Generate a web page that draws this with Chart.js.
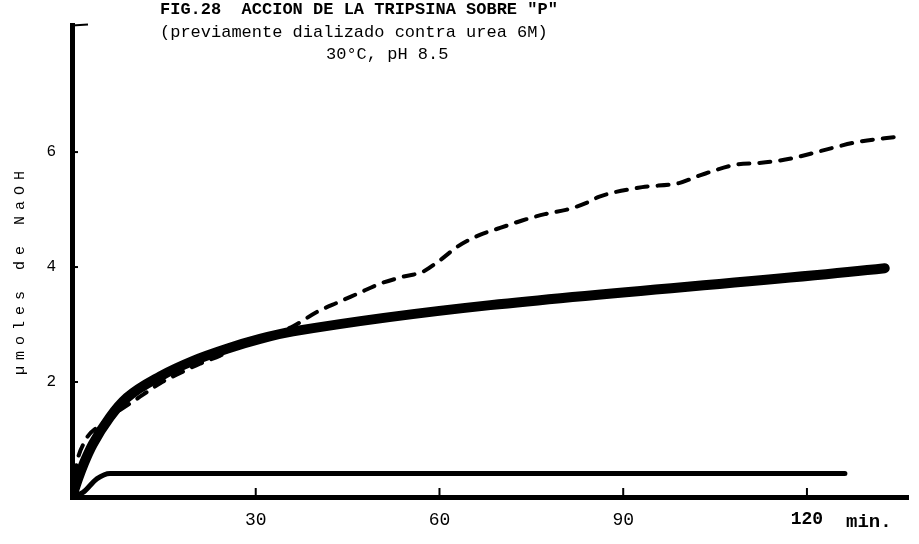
<!DOCTYPE html>
<html>
<head>
<meta charset="utf-8">
<script src="https://cdn.jsdelivr.net/npm/chart.js@4.4.1/dist/chart.umd.min.js"></script>
<style>
  html, body { margin: 0; padding: 0; background: #fff; }
  #wrap { width: 919px; height: 544px; }
</style>
</head>
<body>
<div id="wrap"><canvas id="fig28" width="919" height="544"></canvas></div>
<script>
/* ── Datos ───────────────────────────────────────────────── */
const xTicks = [30, 60, 90, 120];
const yTicks = [2, 4, 6];

// curva gruesa continua
const solidMin = [0, 1.0, 2.0, 3.4, 6.2, 9.0, 14.4, 19.8, 25.3, 30.7, 36.1, 132.7];
const solidVal = [0, 0.32, 0.6, 0.92, 1.39, 1.73, 2.10, 2.37, 2.58, 2.75, 2.88, 3.98];

// curva de trazos
const dashMin = [0, 0.5, 2.1, 4.6, 11.6, 14.4, 18.1, 20.9, 24.2, 26.3, 30.7, 36.1, 40.0, 43.5,
  46.7, 50.3, 54.0, 57.3, 60.1, 63.0, 66.6, 69.9, 73.5, 77.2, 80.8, 84.1, 86.0, 93.1, 99.1,
  102.4, 108.4, 112.2, 115.4, 118.7, 124.1, 128.0, 135.0];
const dashVal = [0, 0.45, 0.97, 1.25, 1.78, 1.98, 2.18, 2.32, 2.46, 2.58, 2.75, 2.97, 3.22, 3.39,
  3.54, 3.71, 3.83, 3.92, 4.12, 4.36, 4.56, 4.68, 4.81, 4.92, 5.00, 5.12, 5.22, 5.39, 5.46,
  5.59, 5.78, 5.81, 5.85, 5.92, 6.07, 6.17, 6.27];

// linea base (control)
const baseMin = [0, 1.8, 4.1, 6.2, 10, 126.2];
const baseVal = [0, 0.08, 0.32, 0.41, 0.41, 0.41];

const toXY = (xs, ys) => xs.map((x, i) => ({ x, y: ys[i] }));

/* ── Rotulos y marcas a mano ─────────────────────────────── */
const FONT_TW = '"Liberation Mono", "DejaVu Sans Mono", monospace';

const decorPlugin = {
  id: 'decor',
  afterDraw(chart) {
    const { ctx, scales: { x, y }, chartArea: a } = chart;
    ctx.save();
    ctx.fillStyle = '#000';
    ctx.strokeStyle = '#000';

    // marcas de eje hacia dentro
    ctx.lineWidth = 2;
    xTicks.forEach(v => {
      const px = x.getPixelForValue(v);
      ctx.beginPath(); ctx.moveTo(px, a.bottom); ctx.lineTo(px, a.bottom - 9); ctx.stroke();
    });
    yTicks.forEach(v => {
      const py = y.getPixelForValue(v);
      ctx.beginPath(); ctx.moveTo(a.left, py); ctx.lineTo(a.left + 6, py); ctx.stroke();
    });
    ctx.beginPath(); ctx.moveTo(a.left, a.top); ctx.lineTo(a.left + 16, a.top - 1); ctx.stroke();

    // titulo
    ctx.textBaseline = 'middle';
    ctx.textAlign = 'left';
    ctx.font = 'bold 17px ' + FONT_TW;
    ctx.fillText('FIG.28  ACCION DE LA TRIPSINA SOBRE "P"', 160, 10);
    ctx.font = '17px ' + FONT_TW;
    ctx.fillText('(previamente dializado contra urea 6M)', 160, 32);
    ctx.fillText('30°C, pH 8.5', 326, 54);

    // unidad del eje x
    ctx.font = 'bold 19px ' + FONT_TW;
    ctx.fillText('min.', 846, 522);

    // titulo del eje y
    ctx.translate(20, 270);
    ctx.rotate(-Math.PI / 2);
    ctx.textAlign = 'center';
    ctx.font = '15px ' + FONT_TW;
    ctx.letterSpacing = '6px';
    ctx.fillText('µmoles de NaOH', 0, 0);
    ctx.restore();
  }
};

/* ── Grafico ─────────────────────────────────────────────── */
new Chart(document.getElementById('fig28'), {
  type: 'line',
  data: {
    datasets: [
      {
        label: 'dializado',
        data: toXY(dashMin, dashVal),
        borderColor: '#000',
        borderWidth: 4,
        borderDash: [11, 10],
        borderCapStyle: 'round',
        pointRadius: 0,
        cubicInterpolationMode: 'monotone',
      },
      {
        label: 'tripsina',
        data: toXY(solidMin, solidVal),
        borderColor: '#000',
        borderWidth: 10,
        borderCapStyle: 'round',
        pointRadius: 0,
        cubicInterpolationMode: 'monotone',
      },
      {
        label: 'control',
        data: toXY(baseMin, baseVal),
        borderColor: '#000',
        borderWidth: 5,
        borderCapStyle: 'round',
        pointRadius: 0,
        cubicInterpolationMode: 'monotone',
      }
    ]
  },
  options: {
    responsive: false,
    animation: false,
    events: [],
    layout: { padding: { left: 0, right: 11, top: 13, bottom: 0 } },
    plugins: { legend: { display: false }, tooltip: { enabled: false }, title: { display: false } },
    scales: {
      x: {
        type: 'linear', min: 0, max: 136.5,
        afterBuildTicks: s => { s.ticks = xTicks.map(v => ({ value: v })); },
        afterFit: s => { s.height = 47; },
        grid: { display: false, drawTicks: false },
        border: { display: true, color: '#000', width: 5 },
        ticks: {
          color: '#000', padding: 12,
          font: c => ({ family: FONT_TW, size: 18, weight: c.tick && c.tick.value === 120 ? 'bold' : 'normal' }),
          callback: v => String(v)
        }
      },
      y: {
        type: 'linear', min: 0, max: 8.2,
        afterBuildTicks: s => { s.ticks = yTicks.map(v => ({ value: v })); },
        afterFit: s => { s.width = 72; },
        grid: { display: false, drawTicks: false },
        border: { display: true, color: '#000', width: 5 },
        ticks: {
          color: '#000', padding: 16,
          font: { family: FONT_TW, size: 16 },
          callback: v => String(v)
        }
      }
    }
  },
  plugins: [decorPlugin]
});
</script>
</body>
</html>
